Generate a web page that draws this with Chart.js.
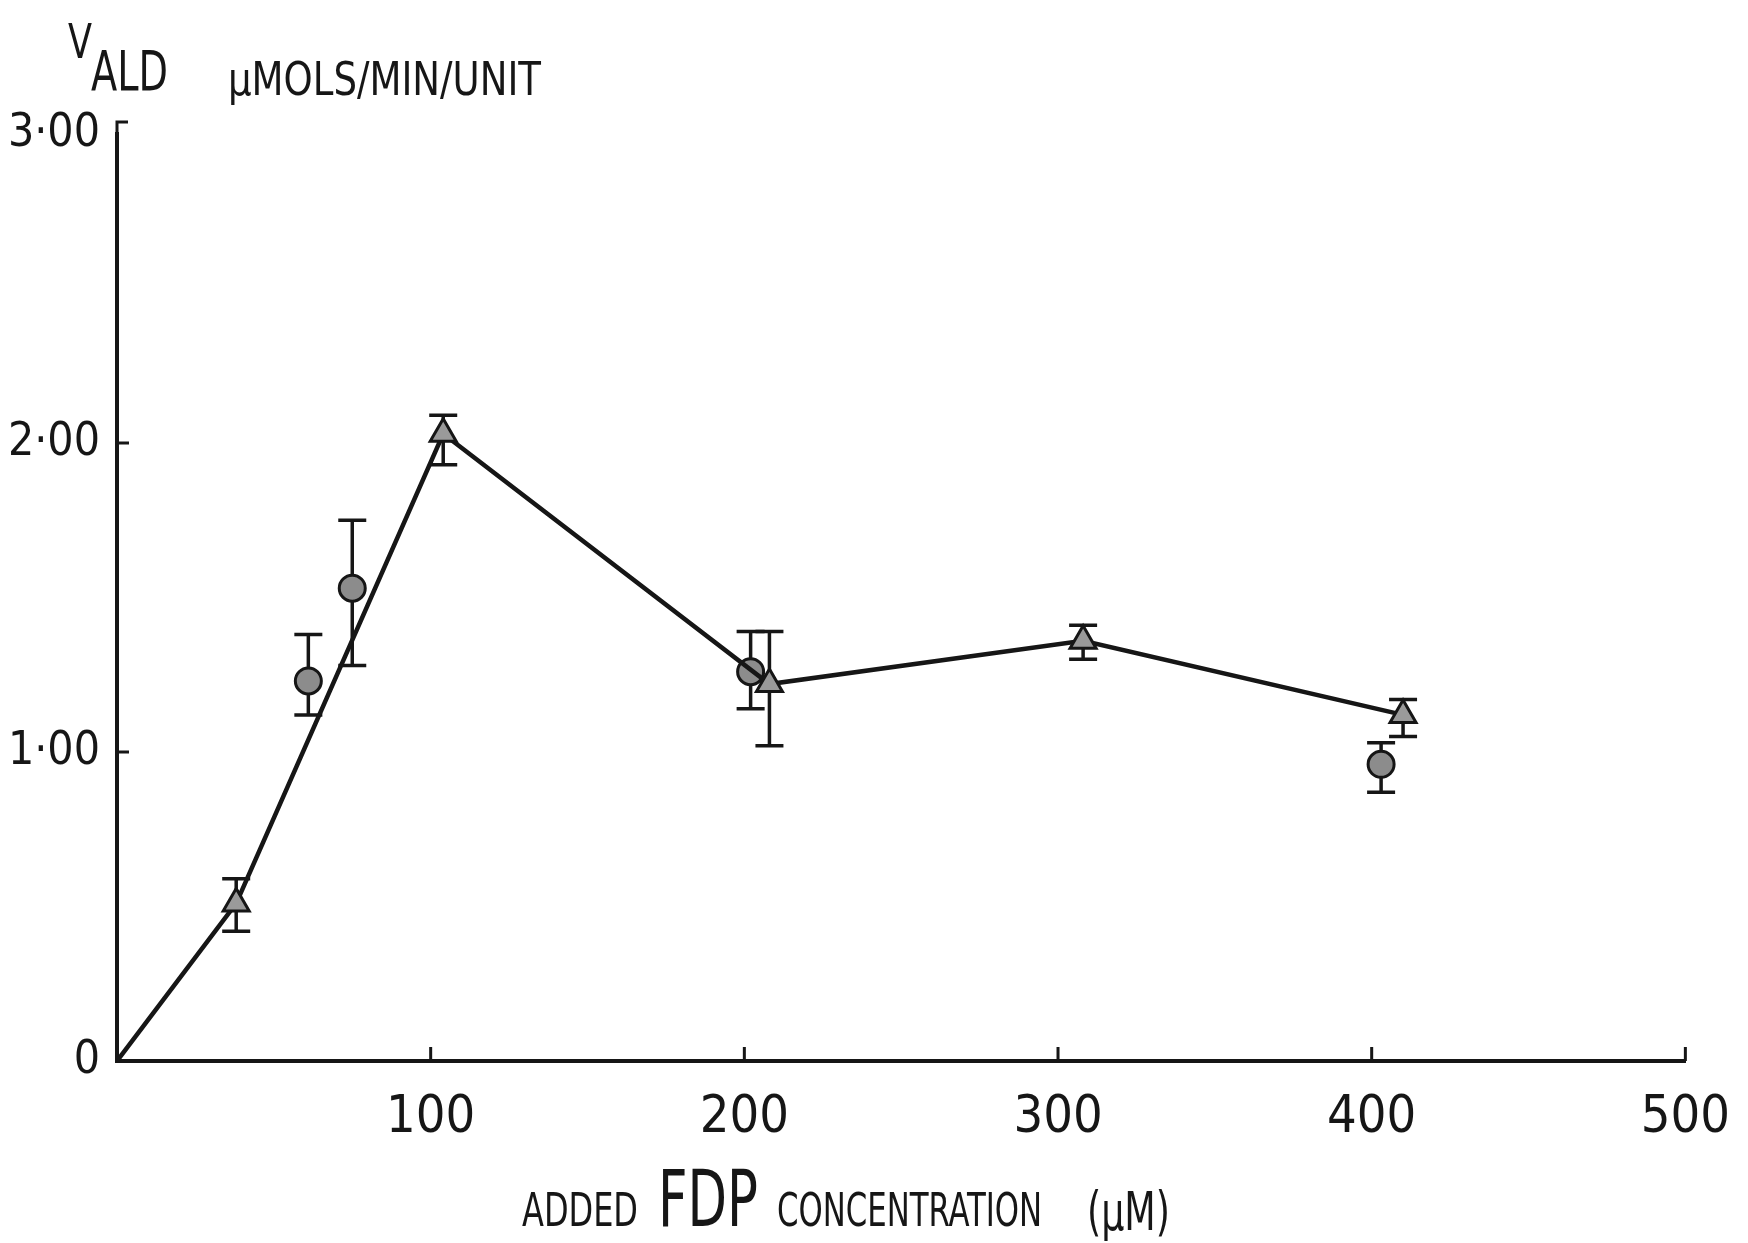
<!DOCTYPE html>
<html>
<head>
<meta charset="utf-8">
<script src="https://cdn.jsdelivr.net/npm/chart.js@4/dist/chart.umd.min.js"></script>
<style>
  html, body { margin: 0; padding: 0; background: #fff; }
  #wrap { width: 1748px; height: 1243px; }
</style>
</head>
<body>
<div id="wrap"><canvas id="chart" width="1748" height="1243"></canvas></div>
<script>
const FONT = "'DejaVu Sans Condensed', 'Liberation Sans Narrow', sans-serif";
const INK = "#161616";

// tick labels
const xTickLabels = ["", "100", "200", "300", "400", "500"];
const yTickLabels = ["0", "1·00", "2·00", "3·00"];

// triangles (joined by the line), first point is the origin
const triX = [0, 38, 104, 208, 308, 410];
const triY = [0, 0.51, 2.03, 1.22, 1.36, 1.12];
const triLow = [null, 0.42, 1.93, 1.02, 1.30, 1.05];
const triHigh = [null, 0.59, 2.09, 1.39, 1.41, 1.17];

// circles (no line)
const circX = [61, 75, 202, 403];
const circY = [1.23, 1.53, 1.26, 0.96];
const circLow = [1.12, 1.28, 1.14, 0.87];
const circHigh = [1.38, 1.75, 1.39, 1.03];

const toPoints = (xs, ys) => xs.map((x, i) => ({ x: x, y: ys[i] }));

// error bars + inward ticks + titles
const extras = {
  id: "extras",
  beforeDatasetsDraw(chart) {
    const ctx = chart.ctx;
    const xs = chart.scales.x, ys = chart.scales.y;
    ctx.save();
    ctx.strokeStyle = INK;
    ctx.lineWidth = 3.5;
    const bar = (x, lo, hi) => {
      if (lo == null) return;
      const px = xs.getPixelForValue(x);
      const p1 = ys.getPixelForValue(lo), p2 = ys.getPixelForValue(hi);
      ctx.beginPath();
      ctx.moveTo(px, p1); ctx.lineTo(px, p2);
      ctx.moveTo(px - 14, p1); ctx.lineTo(px + 14, p1);
      ctx.moveTo(px - 14, p2); ctx.lineTo(px + 14, p2);
      ctx.stroke();
    };
    triX.forEach((x, i) => bar(x, triLow[i], triHigh[i]));
    circX.forEach((x, i) => bar(x, circLow[i], circHigh[i]));
    ctx.restore();
  },
  afterDraw(chart) {
    const ctx = chart.ctx;
    const xs = chart.scales.x, ys = chart.scales.y;
    const a = chart.chartArea;
    ctx.save();
    ctx.strokeStyle = INK;
    ctx.lineWidth = 3;
    ctx.beginPath();
    [100, 200, 300, 400, 500].forEach(v => {
      const px = xs.getPixelForValue(v);
      ctx.moveTo(px, a.bottom); ctx.lineTo(px, a.bottom - 14);
    });
    [1, 2].forEach(v => {
      const py = ys.getPixelForValue(v);
      ctx.moveTo(a.left, py); ctx.lineTo(a.left + 12, py);
    });
    ctx.moveTo(a.left, a.top); ctx.lineTo(a.left, a.top - 12);
    ctx.lineTo(a.left + 11, a.top - 12);
    ctx.stroke();

    ctx.fillStyle = INK;
    ctx.textBaseline = "alphabetic";
    ctx.textAlign = "left";
    const word = (t, x, y, size, w) => {
      ctx.font = size + "px " + FONT;
      ctx.fillText(t, x, y, w);
    };
    // y title
    word("V", 68, 58, 48, 24);
    word("ALD", 91, 90, 56, 77);
    word("μMOLS/MIN/UNIT", 228, 95, 47, 313);
    // x title
    word("ADDED", 522, 1226, 46, 116);
    word("FDP", 658, 1226, 78, 100);
    word("CONCENTRATION", 777, 1226, 46, 265);
    word("(μM)", 1087, 1230, 54, 83);
    ctx.restore();
  }
};

new Chart(document.getElementById("chart"), {
  type: "scatter",
  data: {
    datasets: [
      {
        data: toPoints(triX, triY),
        showLine: true,
        borderColor: INK,
        borderWidth: 4.5,
        pointStyle: "triangle",
        pointRadius: triX.map((x, i) => (i === 0 ? 0 : 15)),
        pointBackgroundColor: "#9a9a9a",
        pointBorderColor: INK,
        pointBorderWidth: 3,
        tension: 0
      },
      {
        data: toPoints(circX, circY),
        showLine: false,
        pointStyle: "circle",
        pointRadius: 13,
        pointBackgroundColor: "#8c8c8c",
        pointBorderColor: INK,
        pointBorderWidth: 3
      }
    ]
  },
  options: {
    responsive: false,
    animation: false,
    devicePixelRatio: 1,
    layout: { padding: { left: 0, right: 56, top: 134, bottom: 82 } },
    plugins: { legend: { display: false }, tooltip: { enabled: false } },
    scales: {
      x: {
        type: "linear",
        min: 0,
        max: 500,
        grid: { display: false },
        border: { display: true, color: INK, width: 4 },
        ticks: {
          stepSize: 100,
          padding: 18,
          color: INK,
          font: { family: FONT, size: 52 },
          callback: (v) => xTickLabels[v / 100]
        },
        afterFit: (s) => { s.height = 100; }
      },
      y: {
        min: 0,
        max: 3,
        grid: { display: false },
        border: { display: true, color: INK, width: 4 },
        ticks: {
          stepSize: 1,
          padding: 9,
          color: INK,
          font: { family: FONT, size: 46 },
          callback: (v) => yTickLabels[v]
        },
        afterFit: (s) => { s.width = 117; }
      }
    }
  },
  plugins: [extras]
});
</script>
</body>
</html>
